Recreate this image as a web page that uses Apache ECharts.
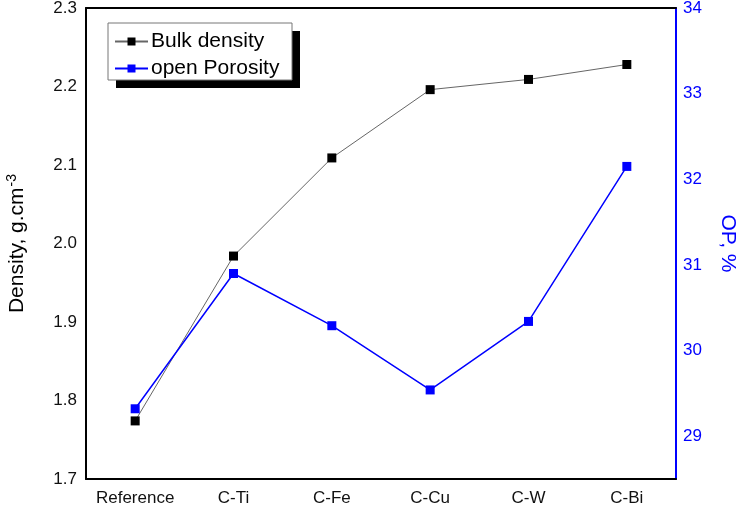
<!DOCTYPE html>
<html>
<head>
<meta charset="utf-8">
<script src="https://cdn.jsdelivr.net/npm/echarts@6/dist/echarts.min.js"></script>
<style>html,body{margin:0;padding:0;background:#fff}#c{width:741px;height:505px}</style>
</head>
<body>
<div id="c"></div>
<script>
var categories = ['Reference', 'C-Ti', 'C-Fe', 'C-Cu', 'C-W', 'C-Bi'];
var bulkDensity = [1.774, 1.984, 2.109, 2.196, 2.209, 2.228];
var openPorosity = [29.32, 30.90, 30.29, 29.54, 30.34, 32.15];
var densityTicks = [1.7, 1.8, 1.9, 2.0, 2.1, 2.2, 2.3];
var opTicks = [29, 30, 31, 32, 33, 34];

var FONT = 'Liberation Sans, Arial, sans-serif';
var chart = echarts.init(document.getElementById('c'));
chart.setOption({
  animation: false,
  backgroundColor: '#fff',
  grid: { left: 86, right: 65, top: 8, bottom: 26, outerBoundsMode: 'none', containLabel: false },
  graphic: [
    { type: 'rect', z: 1, shape: { x: 116, y: 31, width: 184, height: 57 }, style: { fill: '#000' } },
    { type: 'rect', z: 2, shape: { x: 108, y: 23, width: 184, height: 57 }, style: { fill: '#fff', stroke: '#777', lineWidth: 1 } }
  ],
  legend: {
    left: 109, top: 26, orient: 'vertical', itemGap: 6,
    itemWidth: 33, itemHeight: 10, z: 10,
    textStyle: { fontFamily: FONT, fontSize: 21, color: '#000', padding: [0, 0, 0, -2] },
    data: ['Bulk density', 'open Porosity']
  },
  xAxis: [{
    type: 'category', data: categories, boundaryGap: true,
    axisLine: { lineStyle: { color: '#000', width: 2 } },
    axisTick: { show: false },
    axisLabel: { fontFamily: FONT, fontSize: 17, color: '#111', margin: 11, interval: 0, hideOverlap: false }
  }, {
    type: 'category', data: categories, position: 'top', boundaryGap: true,
    axisLine: { lineStyle: { color: '#000', width: 2 } },
    axisTick: { show: false }, axisLabel: { show: false }
  }],
  yAxis: [{
    type: 'value', min: 1.7, max: 2.3, interval: 0.1, position: 'left',
    splitLine: { show: false },
    axisLine: { show: true, lineStyle: { color: '#000', width: 2 } },
    axisTick: { show: false },
    axisLabel: { fontFamily: FONT, fontSize: 17, color: '#111', margin: 9,
      formatter: function (v) { return v.toFixed(1); } },
    name: '{a|Density, g.cm}{b|-3}',
    nameLocation: 'middle', nameGap: 57, nameRotate: 90,
    nameTextStyle: { rich: {
      a: { fontFamily: FONT, fontSize: 21, color: '#000' },
      b: { fontFamily: FONT, fontSize: 14, color: '#000', verticalAlign: 'top', padding: [0, 0, 10, 1] }
    } }
  }, {
    type: 'value', min: 28.5, max: 34, position: 'right',
    splitLine: { show: false },
    axisLine: { show: true, lineStyle: { color: '#0000ff', width: 2 } },
    axisTick: { show: false },
    axisLabel: { fontFamily: FONT, fontSize: 17, color: '#0000ff', margin: 7, customValues: opTicks },
    name: 'OP, %', nameLocation: 'middle', nameGap: 41, nameRotate: -90,
    nameTextStyle: { fontFamily: FONT, fontSize: 21, color: '#0000ff' }
  }],
  series: [{
    name: 'Bulk density', type: 'line', xAxisIndex: 0, yAxisIndex: 0,
    data: bulkDensity, symbol: 'rect', symbolSize: 9,
    itemStyle: { color: '#000' },
    lineStyle: { color: '#666', width: 1 }, z: 3
  }, {
    name: 'open Porosity', type: 'line', xAxisIndex: 0, yAxisIndex: 1,
    data: openPorosity, symbol: 'rect', symbolSize: 9,
    itemStyle: { color: '#0000ff' },
    lineStyle: { color: '#0000ff', width: 1.5 }, z: 4
  }]
});
</script>
</body>
</html>
